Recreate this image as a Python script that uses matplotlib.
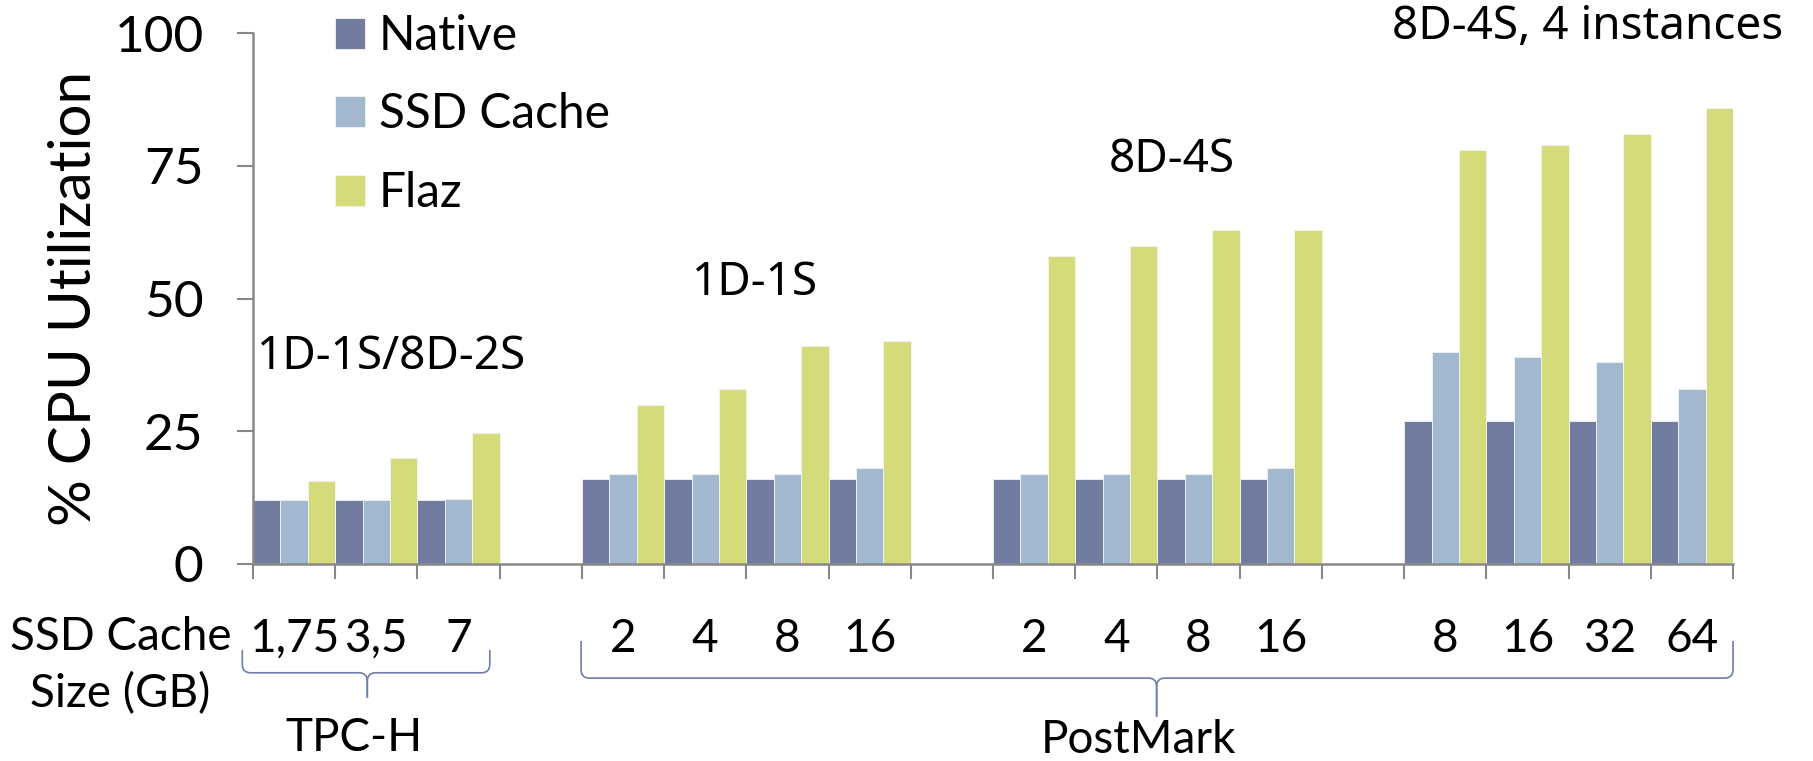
import numpy as np
import matplotlib
matplotlib.use('Agg')
import matplotlib.pyplot as plt
from matplotlib.path import Path
from matplotlib.patches import PathPatch

plt.rcParams['font.family'] = ['Lato', 'DejaVu Sans']

# SSD cache size per run; blank slots separate the configurations
size_labels = ['1,75', '3,5', '7', '',
               '2', '4', '8', '16', '',
               '2', '4', '8', '16', '',
               '8', '16', '32', '64']
native = [12, 12, 12, np.nan, 16, 16, 16, 16, np.nan,
          16, 16, 16, 16, np.nan, 27, 27, 27, 27]
ssd_cache = [12, 12, 12.3, np.nan, 17, 17, 17, 18, np.nan,
             17, 17, 17, 18, np.nan, 40, 39, 38, 33]
flaz = [15.6, 20, 24.7, np.nan, 30, 33, 41, 42, np.nan,
        58, 60, 63, 63, np.nan, 78, 79, 81, 86]

series = ['Native', 'SSD Cache', 'Flaz']
colors = ['#727ca1', '#a2b8cf', '#d4db7b']
config_labels = ['1D-1S/8D-2S', '1D-1S', '8D-4S', '8D-4S, 4 instances']
bench_labels = ['TPC-H', 'PostMark']

W, H = 1813, 761
fig = plt.figure(figsize=(W / 100, H / 100), dpi=100)
ax = fig.add_axes([253 / W, 1 - 564 / H, (1733 - 253) / W, (564 - 33.3) / H])

x = np.arange(len(size_labels))
bw = 1 / 3
handles = []
for i, (vals, c) in enumerate(zip([native, ssd_cache, flaz], colors)):
    b = ax.bar(x + (i - 1) * bw, vals, width=bw, color=c,
               edgecolor='#f4f4f4', linewidth=0.6)
    handles.append(b)

ax.set_xlim(-0.5, len(size_labels) - 0.5)
ax.set_ylim(0, 100)
ax.set_yticks([0, 25, 50, 75, 100])
ax.tick_params(axis='y', length=11.5, width=1.5, color='#888888',
               labelsize=37, pad=24)

# boundary ticks between slots, labels centred under each slot
ax.set_xticks(np.arange(-0.5, len(size_labels)), labels=[])
ax.set_xticks(x, labels=size_labels, minor=True)
ax.tick_params(axis='x', which='major', length=11, width=1.5, color='#888888')
ax.tick_params(axis='x', which='minor', length=0, labelsize=33, pad=39)

for s in ['top', 'right']:
    ax.spines[s].set_visible(False)
for s in ['left', 'bottom']:
    ax.spines[s].set_color('#888888')
    ax.spines[s].set_linewidth(1.8)

ax.set_ylabel('% CPU Utilization', fontsize=42, labelpad=10)

leg = ax.legend(handles, series, loc='upper left', frameon=False,
                bbox_to_anchor=(335 / W, 1 - 14 / H), bbox_transform=fig.transFigure,
                fontsize=34.5, handlelength=0.62, handleheight=0.62,
                handletextpad=0.3, labelspacing=0.72, borderpad=0, borderaxespad=0)

calib = dict(fontsize=33, family=['Noto Sans', 'DejaVu Sans'], ha='center', va='center')
ax.text(1.19, 39.0, config_labels[0], **calib)
ax.text(5.61, 52.9, config_labels[1], **calib)
ax.text(10.68, 76.1, config_labels[2], **calib)
ax.text(15.73, 101.1, config_labels[3], clip_on=False, **calib)

ax.text(-2.11, -19.1, 'SSD Cache\nSize (GB)', fontsize=33, ha='center',
        va='center', linespacing=1.39, clip_on=False)


def brace(x0, x1, xm, ytop, ymid, ytip, rx=0.1, ry=1.6):
    for xe, sgn in [(x0, 1), (x1, -1)]:
        verts = [(xe, ytop), (xe, ymid + ry), (xe, ymid), (xe + sgn * rx, ymid),
                 (xm - sgn * rx, ymid), (xm, ymid), (xm, ymid - ry), (xm, ytip)]
        codes = [Path.MOVETO, Path.LINETO, Path.CURVE3, Path.CURVE3,
                 Path.LINETO, Path.CURVE3, Path.CURVE3, Path.LINETO]
        ax.add_patch(PathPatch(Path(verts, codes), fill=False, edgecolor='#6f7cad',
                               linewidth=1.2, clip_on=False))


brace(-0.63, 2.38, 0.89, -16.2, -20.5, -25.2)
ax.text(0.73, -32.8, bench_labels[0], fontsize=33, ha='center', va='center', clip_on=False)
brace(3.49, 17.5, 10.49, -14.5, -21.5, -28.8)
ax.text(10.27, -33.1, bench_labels[1], fontsize=33, ha='center', va='center', clip_on=False)

fig.savefig('out.png', dpi=100)
